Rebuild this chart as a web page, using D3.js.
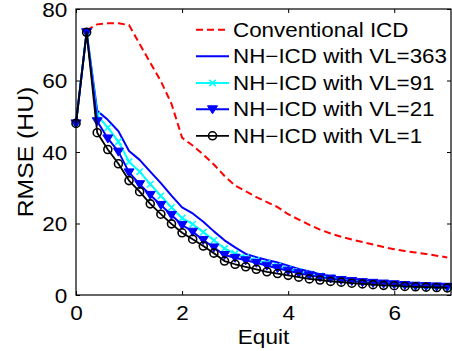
<!DOCTYPE html>
<html>
<head>
<meta charset="utf-8">
<script src="https://cdn.jsdelivr.net/npm/d3@7"></script>
<style>
  html, body { margin: 0; padding: 0; background: #fff; }
  svg { display: block; }
  text { font-family: "Liberation Sans", Arial, sans-serif; fill: #000; }
</style>
</head>
<body>
<svg id="chart" width="452" height="351"></svg>
<script>
// ---- data ----
const equit = [0, 0.2, 0.4, 0.6, 0.8, 1.0, 1.2, 1.4, 1.6, 1.8, 2.0, 2.2, 2.4, 2.6, 2.8, 3.0, 3.2, 3.4,
               3.6, 3.8, 4.0, 4.2, 4.4, 4.6, 4.8, 5.0, 5.2, 5.4, 5.6, 5.8, 6.0, 6.2, 6.4, 6.6, 6.8, 7.0];
const conventional = [null, 74.0, 75.7, 76.0, 76.0, 75.5, 70.2, 65.0, 59.8, 53.5, 44.0, 41.8, 39.3, 36.5, 33.3, 30.6, 29.0, 27.4,
                      26.0, 24.6, 22.6, 21.1, 19.6, 18.3, 17.2, 16.3, 15.5, 14.8, 14.1, 13.4, 12.8, 12.3, 11.9, 11.5, 11.0, 10.5];
const vl363 = [48, 73.5, 51.5, 49.0, 45.8, 40.3, 37.8, 34.5, 31.3, 27.8, 24.5, 22.8, 20.5, 17.8, 15.3, 13.3, 11.5, 10.6,
               9.8, 9.1, 8.2, 7.3, 6.6, 5.8, 5.2, 4.7, 4.4, 4.1, 3.9, 3.7, 3.5, 3.3, 3.1, 3.0, 2.9, 2.8];
const vl91 = [48, 73.5, 50.3, 46.8, 42.9, 37.3, 34.5, 31.0, 27.7, 24.5, 21.5, 19.8, 17.6, 15.3, 13.0, 11.6, 10.5, 9.7,
              8.9, 8.1, 7.3, 6.6, 5.9, 5.3, 4.8, 4.4, 4.0, 3.7, 3.5, 3.3, 3.1, 2.9, 2.7, 2.6, 2.5, 2.4];
const vl21 = [48, 73.5, 48.6, 43.8, 40.1, 34.3, 31.0, 28.0, 25.2, 22.4, 19.6, 17.7, 15.4, 13.3, 11.2, 10.4, 9.7, 9.0,
              8.2, 7.5, 6.8, 6.1, 5.5, 5.0, 4.6, 4.2, 3.9, 3.6, 3.4, 3.2, 3.0, 2.8, 2.6, 2.5, 2.4, 2.3];
const vl1 = [48, 73.5, 45.4, 40.7, 36.7, 32.0, 28.9, 25.5, 22.6, 19.9, 17.4, 15.6, 13.7, 11.7, 9.5, 8.6, 7.9, 7.2,
             6.5, 6.0, 5.5, 5.0, 4.5, 4.2, 3.8, 3.6, 3.3, 3.1, 2.9, 2.7, 2.6, 2.4, 2.3, 2.2, 2.1, 2.0];
const xTicks = [0, 2, 4, 6];
const xTickLabels = ["0", "2", "4", "6"];
const yTicks = [0, 20, 40, 60, 80];
const yTickLabels = ["0", "20", "40", "60", "80"];
const seriesNames = ["Conventional ICD", "NH\u2212ICD with VL=363", "NH\u2212ICD with VL=91",
                     "NH\u2212ICD with VL=21", "NH\u2212ICD with VL=1"];

// ---- layout ----
const L = 76, R = 451, T = 9, B = 295;
const SX = 1.1;
const svg = d3.select("#chart");
const x = d3.scaleLinear().domain([0, 7.07]).range([L, R]);
const y = d3.scaleLinear().domain([0, 80]).range([B, T]);

const series = [
  { name: seriesNames[0], values: conventional, color: "#ff0000", width: 2, dash: "7,4", marker: null },
  { name: seriesNames[1], values: vl363, color: "#0000ff", width: 2, dash: null, marker: null },
  { name: seriesNames[2], values: vl91, color: "#00ffff", width: 2, dash: null, marker: "x" },
  { name: seriesNames[3], values: vl21, color: "#0000ff", width: 2, dash: null, marker: "tri" },
  { name: seriesNames[4], values: vl1, color: "#000000", width: 1.8, dash: null, marker: "o" }
];

function drawMarker(g, type, color, cx, cy) {
  if (type === "o") {
    g.append("circle").attr("cx", cx).attr("cy", cy).attr("r", 4)
      .attr("fill", "none").attr("stroke", color).attr("stroke-width", 1.6);
  } else if (type === "tri") {
    const s = 5;
    g.append("path")
      .attr("d", `M${cx - s},${cy - s * 0.7}L${cx + s},${cy - s * 0.7}L${cx},${cy + s * 0.9}Z`)
      .attr("fill", color).attr("stroke", color).attr("stroke-width", 1);
  } else if (type === "x") {
    const s = 3.2;
    g.append("path")
      .attr("d", `M${cx - s},${cy - s}L${cx + s},${cy + s}M${cx - s},${cy + s}L${cx + s},${cy - s}`)
      .attr("stroke", color).attr("stroke-width", 1.6).attr("fill", "none");
  }
}

// ---- series ----
const plot = svg.append("g");
series.forEach(s => {
  const pts = equit.map((e, i) => [e, s.values[i]]);
  const line = d3.line().defined(d => d[1] !== null).x(d => x(d[0])).y(d => y(d[1]));
  plot.append("path").datum(pts).attr("d", line)
    .attr("fill", "none").attr("stroke", s.color).attr("stroke-width", s.width)
    .attr("stroke-dasharray", s.dash).attr("stroke-linejoin", "round");
  if (s.marker) {
    const mg = plot.append("g");
    pts.filter(d => d[1] !== null).forEach(d => drawMarker(mg, s.marker, s.color, x(d[0]), y(d[1])));
  }
});

// ---- axes box ----
const axisG = svg.append("g");
axisG.append("rect").attr("x", L).attr("y", T).attr("width", R - L).attr("height", B - T)
  .attr("fill", "none").attr("stroke", "#000").attr("stroke-width", 1.2);

const xAxis = axisG.append("g").attr("transform", `translate(0,${B})`)
  .call(d3.axisBottom(x).tickValues(xTicks).tickSizeInner(-4).tickSizeOuter(0)
        .tickFormat((d, i) => xTickLabels[i]));
xAxis.select(".domain").remove();
xAxis.selectAll("text").attr("y", 25).attr("dy", null).attr("x", 0)
  .style("font-size", "20.5px").attr("transform", `scale(${SX},1)`);
xAxis.selectAll("line").attr("stroke", "#000");

const xTop = axisG.append("g").attr("transform", `translate(0,${T})`)
  .call(d3.axisTop(x).tickValues(xTicks).tickSizeInner(-4).tickSizeOuter(0).tickFormat(""));
xTop.select(".domain").remove();

const yAxis = axisG.append("g").attr("transform", `translate(${L},0)`)
  .call(d3.axisLeft(y).tickValues(yTicks).tickSizeInner(-4).tickSizeOuter(0)
        .tickFormat((d, i) => yTickLabels[i]));
yAxis.select(".domain").remove();
yAxis.selectAll("text").attr("x", -7).attr("dy", "0.36em").style("font-size", "20.5px")
  .attr("transform", `translate(-1,0) scale(${SX},1)`);

const yRight = axisG.append("g").attr("transform", `translate(${R},0)`)
  .call(d3.axisRight(y).tickValues(yTicks).tickSizeInner(-4).tickSizeOuter(0).tickFormat(""));
yRight.select(".domain").remove();

// ---- labels ----
svg.append("text").attr("transform", `translate(${(L + R) / 2},344) scale(${SX},1)`)
  .attr("text-anchor", "middle").style("font-size", "20.5px").text("Equit");
svg.append("text").attr("transform", `translate(33,${(T + B) / 2}) rotate(-90) scale(${SX},1)`)
  .attr("text-anchor", "middle").style("font-size", "22.5px").text("RMSE (HU)");

// ---- legend ----
const leg = svg.append("g");
const rowY = [29.7, 56.3, 83, 109.3, 135.8];
series.forEach((s, i) => {
  const yy = rowY[i];
  leg.append("line").attr("x1", 196).attr("x2", 229).attr("y1", yy).attr("y2", yy)
    .attr("stroke", s.color).attr("stroke-width", s.width).attr("stroke-dasharray", s.dash);
  if (s.marker) drawMarker(leg, s.marker, s.color, 212.5, yy);
  leg.append("text").attr("transform", `translate(233,${yy + 7}) scale(1.12,1)`)
    .style("font-size", "20px").text(s.name);
});
</script>
</body>
</html>
